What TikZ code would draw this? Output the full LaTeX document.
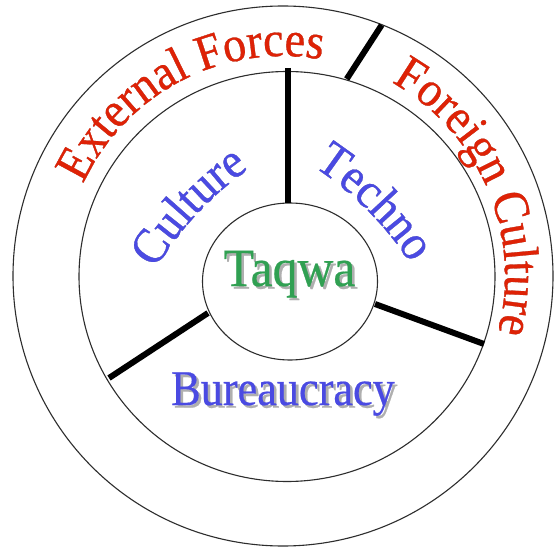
\documentclass[tikz,border=0pt]{standalone}
\usepackage{fontspec}
\setmainfont{Liberation Serif}
\newfontfamily\condserif[FakeStretch=0.92,FakeBold=0.4]{Liberation Serif}
\newfontfamily\bureauserif[FakeStretch=0.885,FakeBold=0.4]{Liberation Serif}
\usetikzlibrary{decorations.text,calc}
\definecolor{redtxt}{RGB}{222,34,6}
\definecolor{bluetxt}{RGB}{74,74,226}
\definecolor{greentxt}{RGB}{48,160,82}
\definecolor{shadowgray}{RGB}{175,175,175}
\definecolor{ringgray}{RGB}{45,45,45}
\newcommand\redfont{\condserif\fontsize{50}{50}\selectfont}
\newcommand\bluefont{\condserif\fontsize{50}{50}\selectfont}
\newcommand\bureaufont{\bureauserif\fontsize{50}{50}\selectfont}
\newcommand\taqwafont{\condserif\fontsize{54}{54}\selectfont}
\begin{document}
\begin{tikzpicture}[x=1pt,y=1pt,
  ring/.style={draw=ringgray, line width=1.1pt},
  spoke/.style={draw=black, line width=6pt},
  shadowshift/.style={shift={(2.6pt,-2.6pt)}}]
\useasboundingbox (0,0) rectangle (554,547);
\fill[white] (0,0) rectangle (554,547);

% ring centres
\coordinate (cOuter) at (283,271);
\coordinate (cMiddle) at (287,270.5);
\coordinate (cInner) at (290,265.5);
\coordinate (cCulture) at (438.3,107.9);
\coordinate (cTechno) at (133.7,103.7);

% rings
\draw[ring] (cOuter) circle[radius=270pt];
\draw[ring] (cMiddle) ellipse[x radius=208pt, y radius=205pt];
\draw[ring] (cInner) ellipse[x radius=87.5pt, y radius=78.5pt];

% spokes
\coordinate (s1a) at (288.3,479);
\coordinate (s1b) at (288.3,344);
\coordinate (s2a) at (346.7,468);
\coordinate (s2b) at (381.7,522);
\coordinate (s3a) at (375,243);
\coordinate (s3b) at (484,203);
\coordinate (s4a) at (208,234);
\coordinate (s4b) at (109,169);
\draw[spoke] (s1a) -- (s1b);
\draw[spoke] (s2a) -- (s2b);
\draw[spoke] (s3a) -- (s3b);
\draw[spoke] (s4a) -- (s4b);

% shadows
\begin{scope}[shadowshift]
\node[anchor=base, inner sep=0, text=shadowgray, font=\taqwafont] (taqwaS) at (289.5,261) {Taqwa};
\node[anchor=base, inner sep=0, text=shadowgray, font=\bureaufont] (bureauS) at (283,142) {Bureaucracy};
\path[decorate, decoration={text along path, text align=center, text color=shadowgray, text={|\redfont|External Forces}}]
  ($(cOuter)+(175:220pt)$) arc[start angle=175, end angle=60, radius=220pt];
\path[decorate, decoration={text along path, text align=center, text color=shadowgray, text={|\redfont|Foreign Culture}}]
  ($(cOuter)+(85:222pt)$) arc[start angle=85, end angle=-39, radius=222pt];
\path[decorate, decoration={text along path, text align=center, text color=shadowgray, text={|\bluefont|Culture}}]
  ($(cCulture)+(160:330pt)$) arc[start angle=160, end angle=114, radius=330pt];
\path[decorate, decoration={text along path, text align=center, text color=shadowgray, text={|\bluefont|Techno}}]
  ($(cTechno)+(68:330pt)$) arc[start angle=68, end angle=22, radius=330pt];
\end{scope}

% texts
\node[anchor=base, inner sep=0, text=greentxt, font=\taqwafont] (taqwa) at (289.5,261) {Taqwa};
\node[anchor=base, inner sep=0, text=bluetxt, font=\bureaufont] (bureau) at (283,142) {Bureaucracy};
\path[decorate, decoration={text along path, text align=center, text color=redtxt, text={|\redfont|External Forces}}]
  ($(cOuter)+(175:220pt)$) arc[start angle=175, end angle=60, radius=220pt];
\path[decorate, decoration={text along path, text align=center, text color=redtxt, text={|\redfont|Foreign Culture}}]
  ($(cOuter)+(85:222pt)$) arc[start angle=85, end angle=-39, radius=222pt];
\path[decorate, decoration={text along path, text align=center, text color=bluetxt, text={|\bluefont|Culture}}]
  ($(cCulture)+(160:330pt)$) arc[start angle=160, end angle=114, radius=330pt];
\path[decorate, decoration={text along path, text align=center, text color=bluetxt, text={|\bluefont|Techno}}]
  ($(cTechno)+(68:330pt)$) arc[start angle=68, end angle=22, radius=330pt];
\end{tikzpicture}
\end{document}
